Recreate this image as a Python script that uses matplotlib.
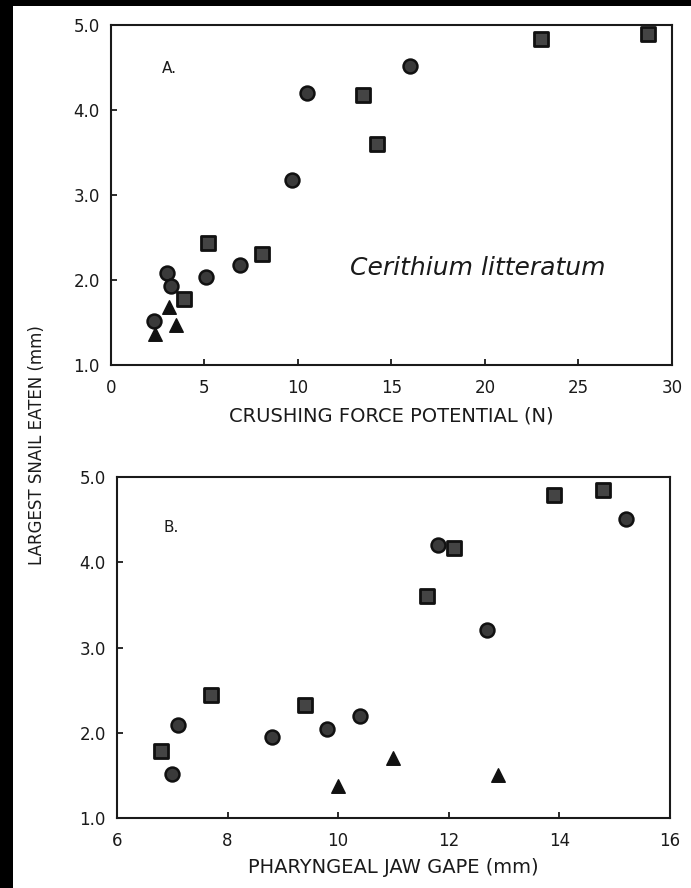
import matplotlib
matplotlib.use("Agg")
import matplotlib.pyplot as plt
from matplotlib.patches import Rectangle

plt.rcParams['font.family'] = ['DejaVu Sans']

# Panel A: crushing force potential (N) vs largest snail eaten (mm)
force_circle = [2.3, 3.0, 3.2, 5.1, 6.9, 9.7, 10.5, 16.0]
snail_circle_a = [1.52, 2.08, 1.93, 2.03, 2.18, 3.18, 4.2, 4.52]
force_square = [3.9, 5.2, 8.1, 13.5, 14.2, 23.0, 28.7]
snail_square_a = [1.78, 2.43, 2.3, 4.18, 3.6, 4.83, 4.89]
force_triangle = [2.35, 3.1, 3.5]
snail_triangle_a = [1.36, 1.68, 1.47]

# Panel B: pharyngeal jaw gape (mm) vs largest snail eaten (mm)
gape_circle = [7.0, 7.1, 8.8, 9.8, 10.4, 11.8, 12.7, 15.2]
snail_circle_b = [1.52, 2.09, 1.95, 2.05, 2.2, 4.2, 3.2, 4.51]
gape_square = [6.8, 7.7, 9.4, 11.6, 12.1, 13.9, 14.8]
snail_square_b = [1.79, 2.44, 2.32, 3.61, 4.17, 4.79, 4.85]
gape_triangle = [10.0, 11.0, 12.9]
snail_triangle_b = [1.38, 1.7, 1.5]

a_xticks = [0, 5, 10, 15, 20, 25, 30]
b_xticks = [6, 8, 10, 12, 14, 16]
yticks = [1.0, 2.0, 3.0, 4.0, 5.0]
ytick_labels = ["1.0", "2.0", "3.0", "4.0", "5.0"]

fig = plt.figure(figsize=(6.91, 8.88), dpi=100)
fig.patch.set_facecolor("white")

# scanned page black edges
fig.patches.append(Rectangle((0, 0), 13 / 691, 1, transform=fig.transFigure,
                             facecolor="black", edgecolor="none", zorder=0))
fig.patches.append(Rectangle((0, 1 - 6 / 888), 1, 6 / 888, transform=fig.transFigure,
                             facecolor="black", edgecolor="none", zorder=0))

ax_a = fig.add_axes([0.1606, 0.589, 0.8119, 0.3829])
ax_b = fig.add_axes([0.1693, 0.0788, 0.800, 0.384])

ink = "#1a1a1a"


def draw(ax, xc, yc, xs, ys, xt, yt):
    ax.scatter(xc, yc, marker="o", s=100, facecolor="#3a3a3a", edgecolor="#111111",
               linewidth=1.8, zorder=3)
    ax.scatter(xs, ys, marker="s", s=88, facecolor="#444444", edgecolor="#111111",
               linewidth=2.0, zorder=3)
    ax.scatter(xt, yt, marker="^", s=95, facecolor="#111111", edgecolor="#111111",
               linewidth=1.0, zorder=3)
    for sp in ax.spines.values():
        sp.set_linewidth(1.5)
        sp.set_color(ink)
    ax.set_ylim(1.0, 5.0)
    ax.set_yticks(yticks)
    ax.set_yticklabels(ytick_labels)
    ax.tick_params(direction="in", length=4, width=1.3, colors=ink,
                   labelsize=12, pad=8)
    ax.tick_params(axis="x", pad=10)


draw(ax_a, force_circle, snail_circle_a, force_square, snail_square_a,
     force_triangle, snail_triangle_a)
ax_a.set_xlim(0, 30)
ax_a.set_xticks(a_xticks)
ax_a.set_xlabel("CRUSHING FORCE POTENTIAL (N)", fontsize=14, color=ink, labelpad=7)
ax_a.text(0.09, 0.86, "A.", transform=ax_a.transAxes, fontsize=11, color=ink)
ax_a.text(12.8, 2.14, "Cerithium litteratum", fontsize=18, style="italic",
          color=ink, va="center")

draw(ax_b, gape_circle, snail_circle_b, gape_square, snail_square_b,
     gape_triangle, snail_triangle_b)
ax_b.set_xlim(6, 16)
ax_b.set_xticks(b_xticks)
ax_b.set_xlabel("PHARYNGEAL JAW GAPE (mm)", fontsize=14, color=ink, labelpad=6)
ax_b.text(0.085, 0.84, "B.", transform=ax_b.transAxes, fontsize=11, color=ink)

fig.text(37 / 691, 1 - 445 / 888, "LARGEST SNAIL EATEN (mm)", rotation=90,
         fontsize=12, color=ink, ha="center", va="center")

fig.savefig("out.png", dpi=100)
